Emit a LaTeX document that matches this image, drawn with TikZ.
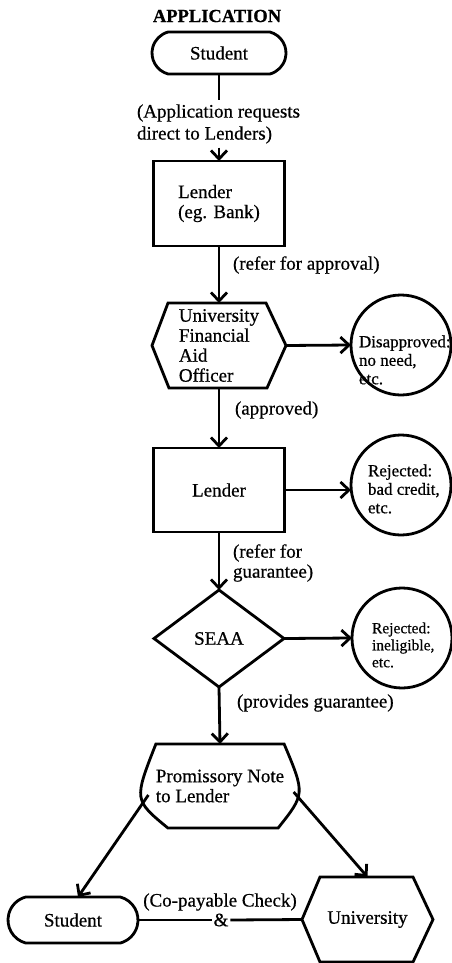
\documentclass[tikz,border=0pt]{standalone}
\usepackage{fontspec}
\setmainfont{Liberation Serif}[FakeBold=0.6]
\usetikzlibrary{arrows.meta,shapes.misc}
\begin{document}
\begin{tikzpicture}[x=1pt,y=-1pt,
  line width=2.8pt,
  every node/.style={inner sep=0pt, outer sep=0pt},
  txt/.style={font=\fontsize{19}{20}\selectfont, align=left},
  ctxt/.style={font=\fontsize{17}{18.5}\selectfont, align=left},
  stxt/.style={font=\fontsize{15.5}{17}\selectfont, align=left},
  arr/.style={-{Straight Barb[length=8.5pt,width=16pt]}},
  frame/.style={draw, rectangle, txt},
  blank/.style={rectangle, txt},
  stadium/.style={draw, rounded rectangle, rounded rectangle arc length=150, txt},
  circ/.style={draw, circle, minimum size=100pt},
]
\useasboundingbox (0,0) rectangle (451,963);

% title
\node[font=\bfseries\fontsize{18.5}{20}\selectfont] (title) at (217,16) {APPLICATION};

% first student
\node[stadium, minimum width=134pt, minimum height=42pt] (stu1) at (219,53) {Student};
\node[txt, font=\fontsize{19}{22}\selectfont, anchor=west, outer sep=4pt] (lab1) at (133,124) {(Application requests\\direct to Lenders)};

% lender 1
\node[frame, minimum width=131pt, minimum height=85pt] (len1) at (219,203.5) {Lender\\(eg. Bank)};
\node[txt, anchor=west] (lab2) at (233,265) {(refer for approval)};

% financial aid officer hexagon
\node[blank, minimum width=134pt, minimum height=85pt] (hex) at (219,345.5) {University\\Financial\\Aid\\Officer};
\draw ([xshift=16pt]hex.north west) -- ([xshift=-20pt]hex.north east) -- (hex.east)
  -- ([xshift=-19pt]hex.south east) -- ([xshift=17pt]hex.south west) -- (hex.west) -- cycle;

\node[circ] (c1) at (401,345) {};
\node[ctxt, anchor=west] (c1t) at (359,360) {Disapproved:\\no need,\\etc.};

\node[txt, anchor=west] (lab3) at (235,410) {(approved)};

% lender 2
\node[frame, minimum width=131pt, minimum height=84pt] (len2) at (219,490) {Lender};
\node[circ] (c2) at (401,485) {};
\node[ctxt, anchor=west] (c2t) at (368,489) {Rejected:\\bad credit,\\etc.};

\node[txt, anchor=west] (lab4) at (233,563) {(refer for\\guarantee)};

% SEAA diamond
\node[blank, minimum width=130pt, minimum height=97pt] (dia) at (219,638.5) {SEAA};
\draw (dia.north) -- (dia.east) -- (dia.south) -- (dia.west) -- cycle;
\node[circ] (c3) at (402,638) {};
\node[stxt, anchor=west] (c3t) at (372,645) {Rejected:\\ineligible,\\etc.};

\node[txt, anchor=west] (lab5) at (237,703) {(provides guarantee)};

% promissory note
\node[blank, minimum width=125pt, minimum height=84pt] (prom) at (220,786) {Promissory Note\\to Lender};
\draw (prom.north west) -- (prom.north east)
  .. controls ([xshift=21pt,yshift=-8pt]prom.east) .. ([xshift=-6pt]prom.south east)
  -- ([xshift=12pt]prom.south west)
  .. controls ([xshift=-22pt,yshift=-14pt]prom.west) .. (prom.north west) -- cycle;

% bottom row
\node[stadium, minimum width=130pt, minimum height=46pt] (stu2) at (73,920) {Student};
\node[blank, minimum width=131pt, minimum height=85pt] (uni) at (367.5,919.5) {University};
\draw ([xshift=18pt]uni.north west) -- ([xshift=-20pt]uni.north east) -- (uni.east)
  -- ([xshift=-20pt]uni.south east) -- ([xshift=18pt]uni.south west) -- (uni.west) -- cycle;

\node[txt, outer sep=2pt] (amp) at (221,920) {\&};
\node[txt] (chk) at (220,902) {(Co-payable Check)};

% connectors
\draw (stu1.south) -- (stu1.south |- lab1.north);
\draw[arr] (stu1.south |- lab1.south) -- (len1.north);
\draw[arr] (len1.south) -- (hex.north);
\draw[arr] (hex.east) -- (c1.west);
\draw[arr] (hex.south) -- (len2.north);
\draw[arr] (len2.east) -- (len2.east -| c2.west);
\draw[arr] (len2.south) -- (dia.north);
\draw[arr] (dia.east) -- (c3.west);
\draw[arr] (dia.south) -- (prom.north);
\draw[arr] ([xshift=-7.5pt,yshift=-9pt]prom.west) -- ([xshift=5pt]stu2.north);
\draw[arr] ([xshift=9.5pt,yshift=-6pt]prom.east) -- (uni.north);
\draw (stu2.east) -- (amp.west);
\draw (amp.east) -- (uni.west);
\end{tikzpicture}
\end{document}
